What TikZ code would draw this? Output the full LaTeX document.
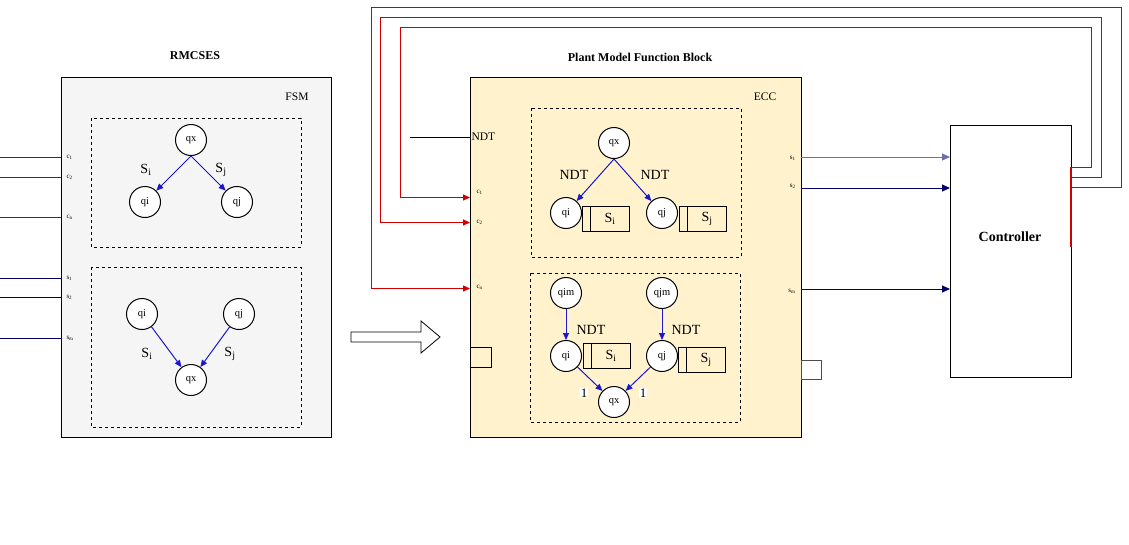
\documentclass[tikz,border=0pt]{standalone}
\usepackage{fontspec}
\setmainfont{Liberation Serif}
\usetikzlibrary{arrows.meta}
\definecolor{fsmgray}{HTML}{F5F5F5}
\definecolor{eccfill}{HTML}{FFF2CC}
\definecolor{arrblue}{HTML}{1A1ACC}
\definecolor{navy}{HTML}{000066}
\definecolor{lnavy}{HTML}{6C6CB0}
\definecolor{dred}{HTML}{B20000}
\definecolor{fred}{HTML}{D00000}
\begin{document}
\begin{tikzpicture}[x=1pt,y=-1pt,line width=1pt,
 st/.style={circle,draw,fill=white,minimum size=31pt,inner sep=0pt,font=\fontsize{10.5}{12}\selectfont},
 trans/.style={draw=arrblue,-{Triangle[length=7pt,width=6pt]}},
 lbl/.style={font=\fontsize{14}{16}\selectfont},
 ttl/.style={font=\bfseries\fontsize{12}{14}\selectfont},
 port/.style={font=\fontsize{7}{8}\selectfont,inner sep=0pt},
 nbox/.style={draw,minimum width=8pt,minimum height=25pt,anchor=north west,inner sep=0pt},
 wbox/.style={draw,minimum width=39pt,minimum height=25pt,anchor=north west,inner sep=0pt,font=\fontsize{14}{16}\selectfont},
 redin/.style={draw=dred},
 bluein/.style={draw=navy},
 fb/.style={draw=fred,line width=1pt,-{Triangle[length=7pt,width=6pt]}},
 outarr/.style={draw=navy,-{Triangle[length=8pt,width=7pt]}},
 onelbl/.style={fill=white,text=black,inner sep=1pt,font=\fontsize{13}{15}\selectfont}
]
\useasboundingbox (0,0) rectangle (1129,544);

% ---------------- Left: RMCSES ----------------
\node[ttl] (t1) at (195,56) {RMCSES};
\node[draw,fill=fsmgray,minimum width=270pt,minimum height=360pt,anchor=north west,inner sep=0pt] (fsm) at (61,77) {};
\node[font=\fontsize{11.5}{13}\selectfont] (fsml) at (297,97) {FSM};
\draw[dashed] (91,118) rectangle (301,247);
\draw[dashed] (91,267) rectangle (301,427);
\node[st] (a1) at (191,140) {qx};
\node[st] (a2) at (145,202) {qi};
\node[st] (a3) at (237,202) {qj};
\draw[trans] (a1.south) -- (a2);
\draw[trans] (a1.south) -- (a3);
\node[lbl] (la1) at (146,170) {S\textsubscript{i}};
\node[lbl] (la2) at (221,170) {S\textsubscript{j}};
\node[st] (b1) at (142,314) {qi};
\node[st] (b2) at (239,314) {qj};
\node[st] (b3) at (191,380) {qx};
\draw[trans] (b1) -- (b3);
\draw[trans] (b2) -- (b3);
\node[lbl] (lb1) at (147,354) {S\textsubscript{i}};
\node[lbl] (lb2) at (230,354) {S\textsubscript{j}};

\coordinate (ic1) at (0,157); \coordinate (ec1) at (61,157);
\coordinate (ic2) at (0,177); \coordinate (ec2) at (61,177);
\coordinate (icn) at (0,217); \coordinate (ecn) at (61,217);
\coordinate (is1) at (0,278); \coordinate (es1) at (61,278);
\coordinate (is2) at (0,297); \coordinate (es2) at (61,297);
\coordinate (ism) at (0,338); \coordinate (esm) at (61,338);
\draw[redin] (ic1) -- (ec1);
\draw[redin] (ic2) -- (ec2);
\draw[redin] (icn) -- (ecn);
\draw[bluein] (is1) -- (es1);
\draw[bluein] (is2) -- (es2);
\draw[bluein] (ism) -- (esm);
\node[port,anchor=west] (pl1) at (66,157) {c\textsubscript{1}};
\node[port,anchor=west] (pl2) at (66,177) {c\textsubscript{2}};
\node[port,anchor=west] (pl3) at (66,217) {c\textsubscript{n}};
\node[port,anchor=west] (pl4) at (66,278) {s\textsubscript{1}};
\node[port,anchor=west] (pl5) at (66,297) {s\textsubscript{2}};
\node[port,anchor=west] (pl6) at (66,338) {s\textsubscript{m}};

% hollow arrow
\draw[fill=white,line width=0.8pt] (351,332) -- (421,332) -- (421,321) -- (440,337) -- (421,353) -- (421,342) -- (351,342) -- cycle;

% ---------------- Middle: Plant Model Function Block ----------------
\node[ttl] (t2) at (640,57) {Plant Model Function Block};
\node[draw,fill=eccfill,minimum width=331pt,minimum height=360pt,anchor=north west,inner sep=0pt] (pm) at (470,77) {};
\node[font=\fontsize{11.5}{13}\selectfont] (eccl) at (765,97) {ECC};
\draw[dashed] (531,108) rectangle (741,257);
\draw[dashed] (530,273) rectangle (740,422);

\coordinate (ndtin) at (410,137); \coordinate (ndtp) at (470,137);
\draw (ndtin) -- (ndtp);
\node[anchor=west,inner sep=1pt,font=\fontsize{11.5}{13}\selectfont] (ndtl) at (470,137) {NDT};

\coordinate (pc1) at (470,197.5);
\coordinate (pc2) at (470,222.5);
\coordinate (pcn) at (470,288.5);
\node[port,anchor=west] (mp1) at (476,192) {c\textsubscript{1}};
\node[port,anchor=west] (mp2) at (476,222) {c\textsubscript{2}};
\node[port,anchor=west] (mp3) at (476,287) {c\textsubscript{n}};

% upper ECC
\node[st] (c1) at (614,143) {qx};
\node[nbox] (u1a) at (582,206) {};
\node[wbox] (u1) at (590,206) {S\textsubscript{i}};
\node[nbox] (u2a) at (679,206) {};
\node[wbox] (u2) at (687,206) {S\textsubscript{j}};
\node[st] (c2) at (566,213) {qi};
\node[st] (c3) at (662,213) {qj};
\draw[trans] (c1.south) -- (c2);
\draw[trans] (c1.south) -- (c3);
\node[lbl] (lc1) at (574,175) {NDT};
\node[lbl] (lc2) at (655,175) {NDT};

% lower ECC
\node[st] (d1) at (566,293) {qim};
\node[st] (d2) at (662,293) {qjm};
\node[nbox] (v1a) at (583,343) {};
\node[wbox] (v1) at (591,343) {S\textsubscript{i}};
\node[nbox] (v2a) at (678,347) {};
\node[wbox] (v2) at (686,347) {S\textsubscript{j}};
\node[st] (d3) at (566,356) {qi};
\node[st] (d4) at (662,356) {qj};
\node[st] (d5) at (614,402) {qx};
\draw[trans] (d1) -- (d3);
\draw[trans] (d2) -- (d4);
\draw[trans] (d3) -- (d5);
\draw[trans] (d4) -- (d5);
\node[lbl] (ld1) at (591,330) {NDT};
\node[lbl] (ld2) at (686,330) {NDT};
\node[onelbl] (ld3) at (584,393) {1};
\node[onelbl] (ld4) at (643,393) {1};

% small port rectangles
\draw (470,347) rectangle (491,367);
\draw[draw=black!70] (801,360) rectangle (821,379);

% outputs
\coordinate (po1) at (801,157);
\coordinate (po2) at (801,188);
\coordinate (pom) at (801,289);
\node[port,anchor=east] (op1) at (796,158) {s\textsubscript{1}};
\node[port,anchor=east] (op2) at (796,186) {s\textsubscript{2}};
\node[port,anchor=east] (op3) at (796,291) {s\textsubscript{m}};

% ---------------- Controller ----------------
\node[draw,minimum width=121pt,minimum height=252pt,anchor=north west,inner sep=0pt] (ctrl) at (950,125) {};
\node[font=\bfseries\fontsize{14}{16}\selectfont] (ctrll) at (1010,237) {Controller};

\draw[outarr,draw=lnavy] (po1) -- (ctrl.west |- po1);
\draw[outarr] (po2) -- (ctrl.west |- po2);
\draw[outarr] (pom) -- (ctrl.west |- pom);

% feedback
\coordinate (f1) at (1071,167.5);
\coordinate (f2) at (1071,177.5);
\coordinate (f3) at (1071,187.5);
\draw[draw=fred,line width=1.2pt] (1071,167) -- (1071,247);
\draw[fb] (f1) -- (1091.5,167.5) -- (1091.5,27.5) -- (400.5,27.5) -- (400.5,197.5) -- (pc1);
\draw[fb] (f2) -- (1101.5,177.5) -- (1101.5,17.5) -- (380.5,17.5) -- (380.5,222.5) -- (pc2);
\draw[fb] (f3) -- (1121.5,187.5) -- (1121.5,7.5) -- (371.5,7.5) -- (371.5,288.5) -- (pcn);
\end{tikzpicture}
\end{document}
